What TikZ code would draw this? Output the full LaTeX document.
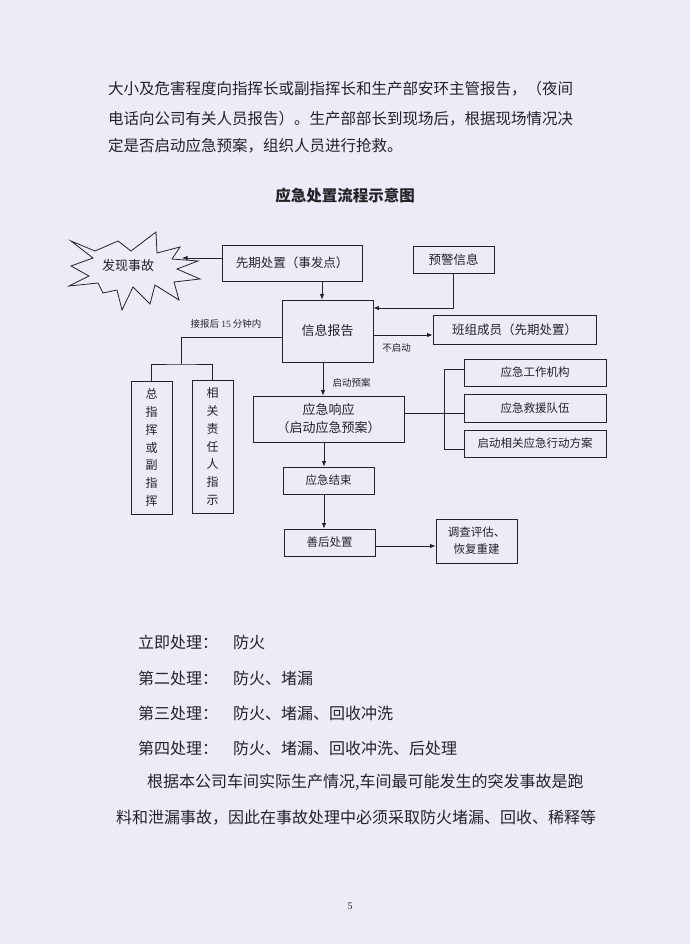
\documentclass[tikz,border=0pt]{standalone}
\usepackage{fontspec}
\newfontfamily\cjk{Noto Sans CJK SC}
\newfontfamily\latin{Liberation Serif}
\usetikzlibrary{arrows.meta}
\definecolor{paper}{RGB}{238,234,248}
\definecolor{ink}{RGB}{35,35,40}
\begin{document}
\begin{tikzpicture}[x=1pt,y=-1pt,
  every node/.style={inner sep=0pt,text=ink},
  wire/.style={draw=ink,line width=0.8pt},
  box/.style={wire,font=\cjk\fontsize{12.5}{15}\selectfont},
  small/.style={wire,font=\cjk\fontsize{11.5}{17}\selectfont},
  tag/.style={font=\cjk\fontsize{9.5}{11}\selectfont},
  para/.style={anchor=west,font=\cjk\fontsize{15.5}{16}\selectfont},
  body/.style={anchor=west,font=\cjk\fontsize{16}{16}\selectfont},
  arr/.style={wire,-{Latex[length=5.5pt,width=4.5pt]}}]
\fill[paper](0,0)rectangle(690,949);
\fill[white](0,944)rectangle(690,949);
% text above the chart
\node[para] (l1) at (108,89) {大小及危害程度向指挥长或副指挥长和生产部安环主管报告，（夜间};
\node[para] (l2) at (108,119) {电话向公司有关人员报告）。生产部部长到现场后，根据现场情况决};
\node[para] (l3) at (108,146) {定是否启动应急预案，组织人员进行抢救。};
\node[font=\cjk\bfseries\fontsize{15.5}{16}\selectfont] (title) at (345,196) {应急处置流程示意图};
% chart
\node[font=\cjk\fontsize{13}{15}\selectfont] (accident) at (128,266) {发现事故};
\draw[wire](71,241)--(95,251)--(118,241)--(131,251)--(156,232)--(157,253)--(180,247)
  --(172,259)--(198,261)--(177,269)--(200,279)--(174,282)--(179,300)--(155,285)
  --(150,304)--(133,287)--(122,310)--(117,290)--(103,293)--(98,283)--(69,286)
  --(89,276)--(71,266)--(93,258)--cycle;
\coordinate (hit) at (182,258);
\node[box,minimum width=140pt,minimum height=36pt] (first) at (292,263) {先期处置（事发点）};
\node[box,minimum width=81pt,minimum height=27pt] (warn) at (453.5,259.5) {预警信息};
\node[box,font=\cjk\fontsize{13}{15}\selectfont,minimum width=91pt,minimum height=62pt] (report) at (327.5,331) {信息报告};
\node[box,minimum width=163pt,minimum height=29pt] (team) at (514.5,329.5) {班组成员（先期处置）};
\node[box,align=center,font=\cjk\fontsize{13}{18}\selectfont,minimum width=151pt,minimum height=46pt] (respond) at (328.5,419) {应急响应\\（启动应急预案）};
\node[small,minimum width=142pt,minimum height=27pt] (org) at (535,372.5) {应急工作机构};
\node[small,minimum width=142pt,minimum height=28pt] (rescue) at (535,408) {应急救援队伍};
\node[small,minimum width=142pt,minimum height=27pt] (plan) at (535,443.5) {启动相关应急行动方案};
\node[small,minimum width=91pt,minimum height=27pt] (finish) at (328.5,480.5) {应急结束};
\node[small,minimum width=91pt,minimum height=27pt] (after) at (329.5,542.5) {善后处置};
\node[small,align=center,minimum width=81pt,minimum height=44pt] (review) at (476.5,541) {调查评估、\\恢复重建};
\node[box,align=center,font=\cjk\fontsize{12}{17.8}\selectfont,minimum width=41pt,minimum height=133pt] (chief) at (151.5,447.5) {总\\指\\挥\\或\\副\\指\\挥};
\node[box,align=center,font=\cjk\fontsize{12}{17.8}\selectfont,minimum width=41pt,minimum height=133pt] (duty) at (212.5,446.5) {相\\关\\责\\任\\人\\指\\示};
\coordinate (split) at (181,364);
\draw[arr](first.west|-hit)--(hit);
\draw[arr]([xshift=-5.5pt]report.north|-first.south)--([xshift=-5.5pt]report.north);
\draw[arr](warn.south)|-([yshift=23pt]report.east);
\draw[arr]([yshift=-4pt]report.east)--([yshift=-4pt]report.east-|team.west);
\draw[arr]([xshift=-4.5pt]report.south)--([xshift=-4.5pt]report.south|-respond.north);
\draw[wire]([yshift=6pt]respond.east)--([yshift=-5pt]rescue.west);
\draw[wire]([yshift=3.5pt]org.west)-|([xshift=-19pt,yshift=-5.5pt]plan.west)--([yshift=-5.5pt]plan.west);
\draw[arr]([xshift=-4.5pt]respond.south)--([xshift=-4.5pt]respond.south|-finish.north);
\draw[arr]([xshift=-4.5pt]finish.south)--([xshift=-4.5pt]finish.south|-after.north);
\draw[arr]([yshift=-3.5pt]after.east)--([yshift=-3.5pt]after.east-|review.west);
\draw[wire]([yshift=-6pt]report.west)-|(split);
\draw[wire](chief.north)|-(split)-|(duty.north);
\node[tag] at (226,324) {接报后 {\latin 15} 分钟内};
\node[tag] at (396.5,348) {不启动};
\node[tag] at (351.7,383) {启动预案};
% text below the chart
\node[body] (s1) at (138,642) {立即处理：};
\node[body] (t1) at (233,642) {防火};
\node[body] (s2) at (138,678) {第二处理：};
\node[body] (t2) at (233,678) {防火、堵漏};
\node[body] (s3) at (138,713) {第三处理：};
\node[body] (t3) at (233,713) {防火、堵漏、回收冲洗};
\node[body] (s4) at (138,748) {第四处理：};
\node[body] (t4) at (233,748) {防火、堵漏、回收冲洗、后处理};
\node[body] (p1) at (147,782) {根据本公司车间实际生产情况,车间最可能发生的突发事故是跑};
\node[body] (p2) at (116,818) {料和泄漏事故，因此在事故处理中必须采取防火堵漏、回收、稀释等};
\node[font=\latin\fontsize{10}{12}\selectfont] (page) at (350,906) {5};
\end{tikzpicture}
\end{document}
